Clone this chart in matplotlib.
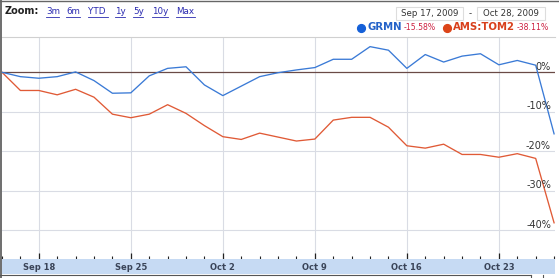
import matplotlib
matplotlib.use("Agg")
import matplotlib.pyplot as plt
from matplotlib.lines import Line2D
from matplotlib.patches import Rectangle
from matplotlib.ticker import FixedLocator, MultipleLocator

# ---- data (percent change since start, one value per trading day) ----
grmn = [0.0, -1.1, -1.5, -1.1, 0.1, -2.1, -5.3, -5.2, -0.9, 1.0, 1.4, -3.2,
        -5.9, -3.5, -1.1, -0.1, 0.6, 1.2, 3.3, 3.3, 6.5, 5.6, 1.0, 4.5, 2.6,
        4.1, 4.7, 1.9, 3.0, 1.8, -15.58]
tom2 = [0.0, -4.6, -4.6, -5.7, -4.3, -6.3, -10.6, -11.5, -10.6, -8.2, -10.4,
        -13.5, -16.3, -17.0, -15.4, -16.4, -17.4, -16.9, -12.1, -11.4, -11.4,
        -13.9, -18.6, -19.2, -18.2, -20.8, -20.8, -21.5, -20.6, -21.8, -38.11]
xtick_pos = [2, 7, 12, 17, 22, 27]
xtick_labels = ["Sep 18", "Sep 25", "Oct 2", "Oct 9", "Oct 16", "Oct 23"]
ytick_vals = [0, -10, -20, -30, -40]
ytick_labels = ["0%", "-10%", "-20%", "-30%", "-40%"]
zoom_links = ["3m", "6m", "YTD", "1y", "5y", "10y", "Max"]
series_names = ["GRMN", "AMS:TOM2"]
series_changes = ["-15.58%", "-38.11%"]
date_from, date_to = "Sep 17, 2009", "Oct 28, 2009"

W, H = 559, 278
fig = plt.figure(figsize=(W / 100, H / 100), dpi=100)
fig.patch.set_facecolor("white")

def fx(x):
    return x / W

def fy(y):
    return 1 - y / H

BLUE = "#3a7ad6"
RED = "#e05a36"

# main plot area (pixels: x 2..555, y 37..259)
ax = fig.add_axes([fx(2), fy(259), (555 - 2) / W, (259 - 37) / H])
xs = list(range(len(grmn)))
ax.plot(xs, tom2, color=RED, lw=0.95, zorder=3)
ax.plot(xs, grmn, color=BLUE, lw=0.95, zorder=4)
ax.set_xlim(0, 30.05)
ax.set_ylim(-47.27, 8.94)

for v in ytick_vals:
    if v == 0:
        ax.axhline(v, color="#6a4a46", lw=0.9, zorder=2)
    else:
        ax.axhline(v, color="#d9dce4", lw=0.8, zorder=1)
for p in xtick_pos:
    ax.axvline(p, color="#d9dce4", lw=0.8, zorder=1)

ax.set_yticks([])
ax.xaxis.set_major_locator(FixedLocator(xtick_pos))
ax.xaxis.set_minor_locator(MultipleLocator(1))
ax.tick_params(axis="x", which="major", direction="in", length=4, width=0.9,
               color="#222222", labelbottom=False)
ax.tick_params(axis="x", which="minor", direction="in", length=2, width=0.8,
               color="#222222")
for s in ["left", "right", "bottom"]:
    ax.spines[s].set_visible(False)
ax.spines["top"].set_color("#d0d0d0")
ax.spines["top"].set_linewidth(0.8)

for v, lab in zip(ytick_vals, ytick_labels):
    ax.annotate(lab, xy=(1, v), xycoords=ax.get_yaxis_transform(),
                xytext=(-4, 0.5), textcoords="offset pixels",
                ha="right", va="bottom", fontsize=7, color="#333333",
                zorder=6)

# date band
band = fig.add_axes([fx(2), fy(274), (555 - 2) / W, (274 - 259) / H])
band.set_facecolor("#c6daf3")
band.set_xlim(ax.get_xlim())
band.set_ylim(0, 1)
band.set_xticks([])
band.set_yticks([])
for s in band.spines.values():
    s.set_visible(False)
for p, lab in zip(xtick_pos, xtick_labels):
    band.text(p, 0.45, lab, transform=band.get_xaxis_transform(),
              ha="center", va="center", fontsize=6, fontweight="bold",
              color="#3a4458")

# outer frame
fig.add_artist(Line2D([fx(0.5), fx(0.5)], [0, 1], color="#555555", lw=1.2,
                      transform=fig.transFigure))
fig.add_artist(Line2D([0, 1], [fy(0.5), fy(0.5)], color="#666666", lw=1.0,
                      transform=fig.transFigure))
fig.add_artist(Line2D([0, fx(531)], [fy(275), fy(275)], color="#555555",
                      lw=0.8, transform=fig.transFigure))
fig.add_artist(Line2D([fx(531), fx(531)], [fy(275), fy(278)], color="#555555",
                      lw=0.8, transform=fig.transFigure))
fig.add_artist(Line2D([fx(543), fx(543)], [fy(275), fy(278)], color="#555555",
                      lw=0.8, transform=fig.transFigure))

# header: zoom links
fig.text(fx(5), fy(14), "Zoom:", fontsize=7, fontweight="bold",
         color="#222222", ha="left", va="baseline")
link_x = [46, 66, 88, 115, 133, 152, 176]
link_w = [13, 14, 20, 10, 10, 16, 19]
for lx, lw_, lab in zip(link_x, link_w, zoom_links):
    fig.text(fx(lx), fy(14), lab, fontsize=6.3, color="#2a2ab0",
             ha="left", va="baseline")
    fig.add_artist(Line2D([fx(lx), fx(lx + lw_)], [fy(16.5), fy(16.5)],
                          color="#2a2ab0", lw=0.6, transform=fig.transFigure))

# date range boxes
for (x0, x1), txt in zip([(396, 463), (477, 545)], [date_from, date_to]):
    fig.add_artist(Rectangle((fx(x0), fy(19.5)), (x1 - x0) / W, 12.5 / H,
                             transform=fig.transFigure, facecolor="white",
                             edgecolor="#dddddd", lw=0.8))
    fig.text(fx((x0 + x1) / 2), fy(13.3), txt, fontsize=6.2, color="#333333",
             ha="center", va="center")
fig.text(fx(470), fy(13.3), "-", fontsize=6.2, color="#333333",
         ha="center", va="center")

# legend
leg = [(361, 367, 404, "#1560d8", "#2462c8", series_names[0], series_changes[0]),
       (447, 453, 517, "#dc4418", "#d8401c", series_names[1], series_changes[1])]
for dotx, namex, chx, dotc, namec, name, ch in leg:
    fig.add_artist(Line2D([fx(dotx)], [fy(27.5)], marker="o", ms=5.6,
                          color=dotc, lw=0, transform=fig.transFigure))
    fig.text(fx(namex), fy(30.5), name, fontsize=7.3, fontweight="bold",
             color=namec, ha="left", va="baseline")
    fig.text(fx(chx), fy(30.5), ch, fontsize=5.6, color="#cc2040",
             ha="left", va="baseline")

fig.savefig("out.png", dpi=100, facecolor="white")
